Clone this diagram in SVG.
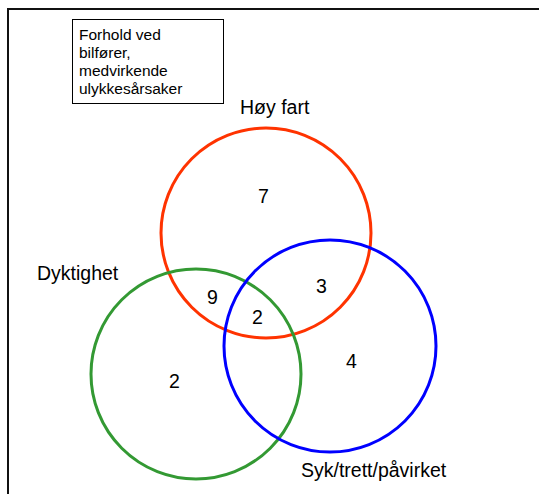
<svg xmlns="http://www.w3.org/2000/svg" width="539" height="494" viewBox="0 0 539 494">
<style>
text{font-family:"Liberation Sans",Arial,sans-serif;fill:#000}
.lbl{font-size:19.5px}
.box{font-size:15.5px}
.c{fill:none;stroke-width:3}
</style>
<rect x="0" y="0" width="539" height="494" fill="#fff"/>
<g id="frame">
<path d="M8 494 V9 H539" fill="none" stroke="#111" stroke-width="2"/>
</g>
<g id="legend">
<rect x="72.5" y="19.5" width="151" height="84" fill="#fff" stroke="#000" stroke-width="1"/>
<text class="box" x="79" y="40">Forhold ved</text>
<text class="box" x="79" y="58">bilfører,</text>
<text class="box" x="79" y="76">medvirkende</text>
<text class="box" x="79" y="94">ulykkesårsaker</text>
</g>
<g id="hoy-fart">
<circle class="c" cx="266" cy="233" r="105" stroke="#FF3300"/>
<text class="lbl" x="240" y="114">Høy fart</text>
</g>
<g id="dyktighet">
<circle class="c" cx="196" cy="374" r="105" stroke="#339933"/>
<text class="lbl" x="37" y="280">Dyktighet</text>
</g>
<g id="syk">
<circle class="c" cx="330" cy="346" r="106" stroke="#0000FF"/>
<text class="lbl" x="301" y="477">Syk/trett/påvirket</text>
</g>
<g id="counts" class="lbl">
<text class="lbl" x="258" y="203">7</text>
<text class="lbl" x="207" y="304">9</text>
<text class="lbl" x="252" y="324">2</text>
<text class="lbl" x="316" y="293">3</text>
<text class="lbl" x="169" y="388">2</text>
<text class="lbl" x="346" y="368">4</text>
</g>
<g id="connectors"></g>
</svg>
